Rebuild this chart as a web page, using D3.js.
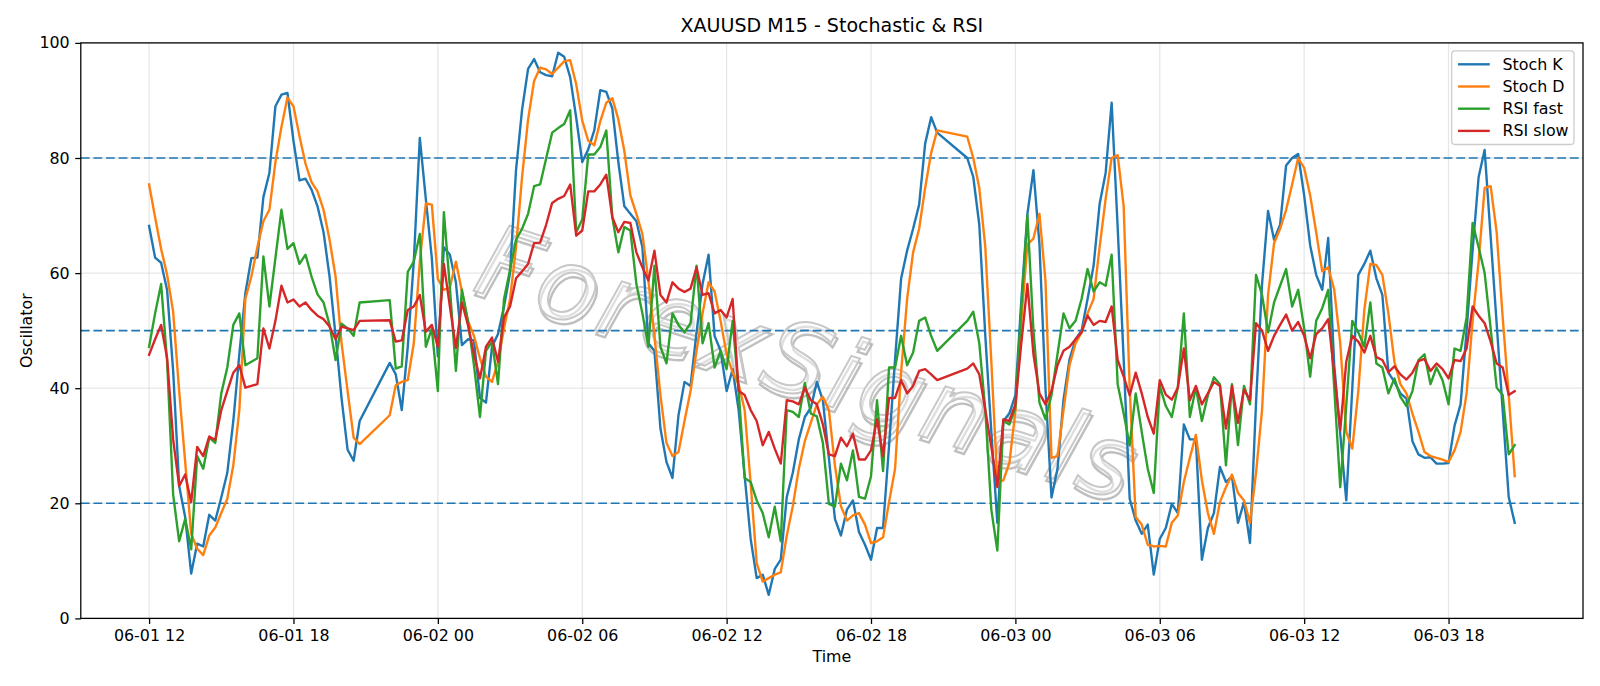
<!DOCTYPE html>
<html><head><meta charset="utf-8">
<script src="https://cdn.jsdelivr.net/npm/d3@7"></script>
<style>body{margin:0;background:#fff} svg{display:block} text{font-family:"DejaVu Sans",sans-serif}</style>
</head><body><svg id="chart" width="1600" height="686"></svg>
<script>
// M15 sessions (bars are 15 minutes apart inside a session; daily break between sessions)
const sessionStarts = ["2024-06-01T12:00:00Z", "2024-06-01T22:00:00Z", "2024-06-02T22:00:00Z"];
const sessionBars = [36, 92, 92];

const stochK = [
 68.2,62.7,61.8,57,43,23,17.6,7.8,13,12.5,18,17,21,25.3,34.3,45.9,56.5,62.6,62.7,73.2,77.4,89,91,91.3,83,76.1,76.4,74.5,71.6,67.1,59.4,49.1,38.2,29.3,27.4,34.3,
 44.4,42.4,36.2,47.2,62,83.5,72.9,62.6,45.5,64.5,
 63.2,58.4,47.5,48.5,48.3,38.3,37.5,47.2,49.4,54.2,60,78,88.4,95.5,97.2,94.9,94.4,94.2,98.3,97.6,94,87,79.3,81.5,
 84.8,91.8,91.5,88.6,79.3,71.6,70.3,69,64.5,47.8,46.5,33,27.2,24.4,35.3,41.1,40.4,49.7,58.1,63.2,49.1,46.5,39.5,43.3,
 36.2,24.7,13.8,7,7.6,4.1,8.6,10.2,21.1,25.3,31.1,35,36.6,41.1,37.9,27.9,17.3,14.4,18.9,20.5,15,12.8,10.2,15.7,
 15.7,30,45,59,63.9,67.7,71.9,82.5,87.1,84.4,
 80,76.7,68.4,49.1,32.4,16.6,34.3,35.6,38.8,55.5,
 70.3,77.9,65,40,21,26,38,45,48.5,50,55.5,61.3,72,77.4,89.6,68,45,20.8,17,14.7,16.3,7.6,13.8,15.7,
 19.9,18.3,33.7,31.1,31.1,10.2,15.7,18.3,26.3,23.7,24.7,16.6,20.2,13.1,37.5,58.1,70.8,65.8,68.4,78.7,80,80.7,73.5,64.8,
 59.7,57.1,66.1,44,32,20.5,40,59.7,61.6,63.9,59.1,56.2,42.7,41.1,39.1,38.2,30.8,28.5,27.9,28,26.9,26.9,27,33.5,
 37.2,50,64,76.7,81.4,66.3,51.2,36.2,21.1,16.6
];
const stochD = [
 75.4,69.7,64.2,59.7,53.3,39.5,27.2,14.7,12.1,11,14.4,15.8,18.3,20.8,26.6,36.2,55.5,59.4,64.5,69,71,79.3,85.4,90.5,89,83.8,79,75.8,74.2,71,65.8,59.4,47.8,39.5,31.4,30.3,
 35.3,40.5,41.1,41.4,47.8,62,72.1,71.9,59,57.1,
 57.5,62,56.8,51.7,49.1,45.2,42,41.1,44.6,50.4,55.5,64.5,76.7,86.7,93.4,95.7,95.4,94.6,95.7,96.8,97,92.8,86.5,83,
 82.2,86.4,89.6,90.4,86.7,81.2,73.5,70.3,66.8,58.7,49.1,38.8,30.5,28.2,28.9,34.3,39.5,46.5,53,58.4,56.8,51.7,45.9,42.7,
 40.7,36.2,23.4,9.6,6.4,7,7.6,8,14.4,19.5,26,30.8,34,37.2,38.5,36.2,26.6,19.5,17,17.9,18.3,16.3,13.1,13.4,
 14.1,20.2,26,42.7,55.5,63.6,67.7,74.8,80.9,84.8,
 83.7,80,74.8,64.5,44.6,23.7,24,27,36,52,
 65,66,70.3,58.7,27.9,28.2,36.2,44,47.8,49.7,53,55.5,64.5,72.9,80,80.5,71.6,40,17.6,16.3,12.8,12.5,12.6,12.5,
 16.6,17.9,23.7,27.9,31.9,24,18.3,14.7,20.2,22.8,25,21.8,20.5,16.6,25.3,36.2,56.2,65.2,67.7,71,75.4,80,78.3,73.5,
 67.1,60.3,61,57.1,47.8,32.4,29.5,39.5,53.6,61.6,61.4,59.7,53,44.6,40.7,39.1,35.6,32.4,28.9,28.2,27.9,27.6,27.2,29.2,
 32.4,39.1,51.7,62,74.8,75.1,67.1,52.3,38.8,24.7
];
const rsiFast = [
 47.2,53,58.1,44.6,21.5,13.4,17.3,12,28.2,26,31.4,30.5,39.1,43.6,51,53,44,44.6,45.2,62.9,54.2,62.6,71,64.2,65.2,61.6,63.2,59.4,56.3,54.9,51,44.9,51.2,50.4,49.1,54.9,
 55.3,43.4,43.8,60.2,62,66.8,47.2,50.4,39.5,70.6,
 57.5,43,57.1,51.7,44,35,46.5,48.1,40.7,55.5,60.6,65.8,67.7,70.3,75.1,75.4,79.9,84.4,85.2,85.9,88.3,67.1,69.3,80.6,
 80.6,81.9,84.8,69.7,63.6,68,67.4,58.1,53,47.2,61.3,47.2,44.3,53,51,49.7,51.3,61.3,47.8,51.3,43.6,46.5,43.3,51.7,
 39.5,24.4,23.7,20.5,18.3,14.1,19.4,13.4,36.2,35.9,35,40.9,35.6,35.1,30.5,19.9,19.4,26.9,24,29.2,21.1,20.8,24.7,37.9,
 25.6,43.6,43.6,49.1,44,46.2,51.7,52.3,49.1,46.5,
 51.7,53.3,47.8,36.2,18.9,11.8,34.3,33.7,36.6,54.2,
 70,50,37.5,34.6,38.8,45.9,53,50.4,51.7,55.5,60.7,56.8,58.4,57.8,63.2,40.7,35.6,30.1,39.1,32.4,26,21.8,40.4,36.9,
 35,40.1,53,35,40.1,34.3,38.8,41.9,40.7,26.6,40.7,30.1,40.4,37.2,59.7,56.2,49.7,54.9,57.8,60.7,54.2,57.1,50.4,42,
 51.7,53.9,57.1,40,22.8,37,51.7,49.7,47.2,54.9,44.3,43.6,39.1,41.7,38.5,36.9,39.5,44.9,45.9,40.7,43.6,41.4,37.2,46.9,
 46.5,52.3,68.7,64.5,60,50.4,40.1,38.8,28.5,30.1
];
const rsiSlow = [
 45.8,48.5,51,45.2,31.1,23,25,20.2,29.8,28.2,31.6,31,36.2,39.5,42.7,44,40.1,40.4,40.7,50.4,46.9,51.7,57.8,54.9,55.4,54.2,54.9,53.6,52.6,52,50.7,48.5,50.7,50.4,50.1,51.7,
 51.8,48.1,48.3,53.6,54.2,56.2,49.8,51,47.2,61.6,
 54.2,47,54.9,51,45.9,41.7,47.2,48.8,44.6,52.3,54.2,59.1,60.3,61.6,65.2,65.3,68.4,72.2,72.9,73.4,75.4,66.5,67.4,74.2,
 74.2,75.4,77.1,69.7,67.1,68.9,68.7,63.6,61,58.7,63.9,56.2,54.9,58.4,57.3,56.7,57.3,61,56.2,56.5,53,53.6,52.3,55.5,
 39.5,38.8,36.2,34.3,30.1,32.4,29.5,26.9,37.9,37.7,37.2,40.1,37.9,37.2,33.7,28.5,28.2,31.4,29.9,32.1,27.6,27.6,29.2,34.6,
 28.2,38.3,38.3,41.4,39.1,40.4,43,43.3,42.4,41.4,
 43.4,44.3,42.4,36.2,29.8,22.8,34.6,34.3,37.2,48,
 58.1,45.9,39.1,37.2,39.5,44,46.5,47.2,48.5,49.7,52.6,51,51.7,51.5,54.2,44.9,42,38.8,42.7,39.1,35,32.1,41.4,38.9,
 38,40.1,46.9,37.9,40.4,37.2,39.1,41.1,40.4,33,40.4,34,39.8,37.9,51.3,50,46.5,49.1,51,52.8,50,51.5,49.1,45.2,
 49.4,50.4,52,42.7,32.7,44.6,49.1,48.1,46.2,49.1,45.4,44.9,42.8,43.8,42.4,41.5,42.7,44.7,45.1,43,44.3,43.3,41.7,44.9,
 44.7,46.9,54.2,52.6,51.3,48.1,44.3,43.6,38.8,39.5
];

const seriesNames = ["Stoch K", "Stoch D", "RSI fast", "RSI slow"];
const seriesValues = [stochK, stochD, rsiFast, rsiSlow];
const seriesColors = ["#1f77b4", "#ff7f0e", "#2ca02c", "#d62728"];
const yTicks = [0, 20, 40, 60, 80, 100];
const levels = [20, 50, 80];
const titleText = "XAUUSD M15 - Stochastic & RSI";
const xLabel = "Time";
const yLabel = "Oscillator";
const watermark = "ForexSignals";

// time index
const times = [];
sessionStarts.forEach((s, i) => {
  const t0 = new Date(s).getTime();
  for (let k = 0; k < sessionBars[i]; k++) times.push(new Date(t0 + k * 15 * 60000));
});

const W = 1600, H = 686;
const L = 80.8, R = 1583, T = 42.9, B = 618.4;
const pt = 1600 / 14 / 72; // px per point
const svg = d3.select("#chart");
svg.append("rect").attr("width", W).attr("height", H).attr("fill", "#fff");

const ext = d3.extent(times);
const span = ext[1] - ext[0];
const x = d3.scaleUtc()
  .domain([new Date(+ext[0] - 0.05 * span), new Date(+ext[1] + 0.05 * span)])
  .range([L, R]);
const y = d3.scaleLinear().domain([0, 100]).range([B, T]);
const xTicks = d3.utcHour.every(6).range(x.domain()[0], x.domain()[1]);

// grid
const grid = svg.append("g");
grid.selectAll(".gx").data(xTicks).join("line")
  .attr("x1", d => x(d)).attr("x2", d => x(d)).attr("y1", T).attr("y2", B)
  .attr("stroke", "#b0b0b0").attr("stroke-opacity", 0.3).attr("stroke-width", 0.8 * pt);
grid.selectAll(".gy").data(yTicks).join("line")
  .attr("x1", L).attr("x2", R).attr("y1", d => y(d)).attr("y2", d => y(d))
  .attr("stroke", "#b0b0b0").attr("stroke-opacity", 0.3).attr("stroke-width", 0.8 * pt);

// watermark (outlined text with soft shadow)
const wm = svg.append("g").attr("transform", "translate(798,396) rotate(18)");
wm.append("text").text(watermark)
  .attr("x", 3).attr("y", 4).attr("text-anchor", "middle")
  .attr("font-size", 100).attr("font-style", "italic").attr("letter-spacing", 4)
  .attr("fill", "none").attr("stroke", "#808080").attr("stroke-opacity", 0.5).attr("stroke-width", 2.4);
wm.append("text").text(watermark)
  .attr("x", 0).attr("y", 0).attr("text-anchor", "middle")
  .attr("font-size", 100).attr("font-style", "italic").attr("letter-spacing", 4)
  .attr("fill", "#ffffff").attr("fill-opacity", 0.5).attr("stroke", "#c8c8c8").attr("stroke-width", 2);

// level lines
svg.append("g").selectAll("line").data(levels).join("line")
  .attr("x1", L).attr("x2", R).attr("y1", d => y(d)).attr("y2", d => y(d))
  .attr("stroke", "#1f77b4").attr("stroke-width", 1.0 * pt)
  .attr("stroke-dasharray", `${3.7 * 1.5 * pt},${1.6 * 1.5 * pt}`);

// series
const line = d3.line().x((d, i) => x(times[i])).y(d => y(d));
svg.append("g").selectAll("path").data(seriesValues).join("path")
  .attr("d", d => line(d)).attr("fill", "none")
  .attr("stroke", (d, i) => seriesColors[i]).attr("stroke-width", 1.5 * pt)
  .attr("stroke-linejoin", "round").attr("stroke-linecap", "square");

// axes
const fs = 10 * pt;
const xAxis = svg.append("g").attr("transform", `translate(0,${B})`)
  .call(d3.axisBottom(x).tickValues(xTicks).tickFormat(d3.utcFormat("%m-%d %H"))
    .tickSize(3.5 * pt).tickPadding(3.5 * pt));
const yAxis = svg.append("g").attr("transform", `translate(${L},0)`)
  .call(d3.axisLeft(y).tickValues(yTicks).tickFormat(d3.format("d"))
    .tickSize(3.5 * pt).tickPadding(3.5 * pt));
[xAxis, yAxis].forEach(a => {
  a.select(".domain").remove();
  a.selectAll(".tick line").attr("stroke", "#000").attr("stroke-width", 0.8 * pt);
  a.selectAll(".tick text").attr("font-size", fs).attr("fill", "#000")
    .attr("font-family", '"DejaVu Sans", sans-serif');
});

// spines
svg.append("rect").attr("x", L).attr("y", T).attr("width", R - L).attr("height", B - T)
  .attr("fill", "none").attr("stroke", "#000").attr("stroke-width", 0.8 * pt);

// labels
svg.append("text").text(titleText).attr("x", (L + R) / 2).attr("y", 32)
  .attr("text-anchor", "middle").attr("font-size", 12 * pt).attr("fill", "#000");
svg.append("text").text(xLabel).attr("x", (L + R) / 2).attr("y", 662)
  .attr("text-anchor", "middle").attr("font-size", fs).attr("fill", "#000");
svg.append("text").text(yLabel)
  .attr("transform", `translate(31.5,${(T + B) / 2}) rotate(-90)`)
  .attr("text-anchor", "middle").attr("font-size", fs).attr("fill", "#000");

// legend
const lgX = 1451.7, lgY = 50.8, lgW = 122.3, lgH = 93.7;
const lg = svg.append("g");
lg.append("rect").attr("x", lgX).attr("y", lgY).attr("width", lgW).attr("height", lgH)
  .attr("rx", 3.2).attr("fill", "#fff").attr("fill-opacity", 0.8)
  .attr("stroke", "#cccccc").attr("stroke-width", 0.8 * pt);
seriesNames.forEach((n, i) => {
  const cy = lgY + 6.35 + 7.15 + i * 22.2;
  lg.append("line").attr("x1", lgX + 6.35).attr("x2", lgX + 6.35 + 31.7)
    .attr("y1", cy).attr("y2", cy).attr("stroke", seriesColors[i]).attr("stroke-width", 1.5 * pt);
  lg.append("text").text(n).attr("x", lgX + 6.35 + 31.7 + 12.7).attr("y", cy)
    .attr("dominant-baseline", "central").attr("font-size", fs).attr("fill", "#000");
});
</script></body></html>
